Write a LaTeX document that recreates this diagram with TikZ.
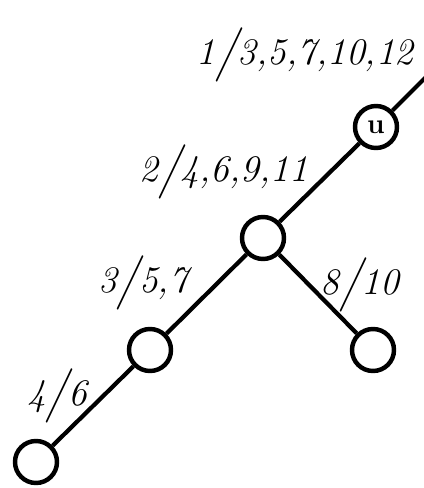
\documentclass[tikz,border=0pt]{standalone}
\usepackage{graphicx}
\newcommand{\bigsl}{\raisebox{-0.12em}{\scalebox{1.2}[1.45]{/}}}
\begin{document}
\begin{tikzpicture}[x=0.03cm,y=-0.03cm,
    vert/.style={circle,draw,line width=3.8pt,minimum size=1.26cm,inner sep=0pt,font=\fontsize{24}{24}\bfseries\selectfont},
    lab/.style={font=\fontsize{32}{32}\itshape\selectfont,inner sep=0pt}]
    \useasboundingbox (0,0) rectangle (423,488);
    \node[vert] (u) at (376,127) {u};
    \node[vert] (m) at (263,238) {};
    \node[vert] (l) at (150,350) {};
    \node[vert] (b) at (36,462) {};
    \node[vert] (r) at (373,350) {};
    \coordinate (top) at (426,77);
    \draw[line width=3.6pt] (top) -- (u) -- (m) -- (l) -- (b);
    \draw[line width=3.6pt] (m) -- (r);
    \node[lab] (lu) at (305,55) {1\bigsl3,5,7,10,12};
    \node[lab] (lm) at (224,172) {2\bigsl4,6,9,11};
    \node[lab] (ll) at (143,283) {3\bigsl5,7};
    \node[lab] (lr) at (360,285) {8\bigsl10};
    \node[lab] (lb) at (57,396) {4\bigsl6};
\end{tikzpicture}
\end{document}
